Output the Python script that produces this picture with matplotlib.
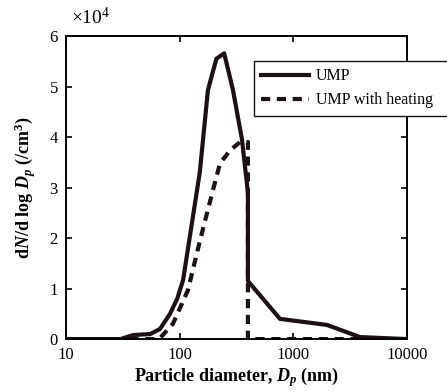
import matplotlib
matplotlib.use("Agg")
import matplotlib.pyplot as plt
from matplotlib.ticker import FuncFormatter, FixedLocator, NullLocator

plt.rcParams['font.family'] = ['Liberation Serif', 'DejaVu Serif']
plt.rcParams['mathtext.fontset'] = 'custom'
plt.rcParams['mathtext.rm'] = 'Liberation Serif'
plt.rcParams['mathtext.it'] = 'Liberation Serif:italic'
plt.rcParams['mathtext.bf'] = 'Liberation Serif:bold'
plt.rcParams['mathtext.bfit'] = 'Liberation Serif:bold:italic'

# particle size distribution, dN/dlogDp in /cm3
ump_d = [10, 30, 39, 55, 67, 82, 95, 107, 128, 150, 177, 210, 246, 294, 353, 398, 398, 762, 1977, 3855, 10000]
ump_n = [0, 0, 800, 1000, 2000, 5000, 8000, 11700, 23000, 33000, 49300, 55500, 56600, 49300, 39500, 29000, 11500, 4000, 2800, 400, 0]

heat_d = [10, 60, 67, 87, 118, 151, 196, 226, 278, 339, 398, 398, 10000]
heat_n = [0, 0, 200, 3000, 9700, 19600, 29500, 34800, 37400, 39000, 39000, 0, 0]

fig = plt.figure(figsize=(4.47, 3.92), dpi=100)
ax = fig.add_axes([0.148, 0.135, 0.7625, 0.773])

ax.plot(ump_d, ump_n, color='#1a1110', lw=3.0, solid_joinstyle='round', label='UMP')
ax.plot(heat_d, heat_n, color='#1a1110', lw=3.0, ls=(0, (2.2, 1.6)), label='UMP with heating')

ax.set_xscale('log')
ax.set_xlim(10, 10000)
ax.set_ylim(0, 60000)
ax.xaxis.set_major_locator(FixedLocator([10, 100, 1000, 10000]))
ax.xaxis.set_minor_locator(NullLocator())
ax.set_xticklabels(['10', '100', '1000', '10000'])
ax.set_yticks([0, 10000, 20000, 30000, 40000, 50000, 60000])
ax.yaxis.set_major_formatter(FuncFormatter(lambda v, p: '%d' % round(v / 1e4)))
ax.text(0.015, 1.025, r'$\times10^4$', transform=ax.transAxes, fontsize=14,
        ha='left', va='bottom')

ax.tick_params(direction='in', length=4, width=1.2, labelsize=12, right=True, top=True)
ax.tick_params(axis='x', pad=6)
ax.tick_params(axis='y', pad=6)
for s in ax.spines.values():
    s.set_linewidth(1.4)

ax.set_xlabel(r'Particle diameter, $\mathbfit{D_p}$ (nm)', fontsize=13, fontweight='bold', labelpad=1)
ax.set_ylabel(r'd$\mathbfit{N}$/d log $\mathbfit{D_p}$ (/cm$^{\mathbf{3}}$)', fontsize=13, fontweight='bold', labelpad=8)

# legend runs past the right edge of the figure, as in the original
fig.legend(loc='upper left', bbox_to_anchor=(0.568, 0.70, 0.45, 0.144), mode='expand',
           fontsize=11.5, frameon=True, fancybox=False, edgecolor='#1a1110', framealpha=1,
           handlelength=3.0, borderpad=0.45, labelspacing=0.5, handletextpad=0.45,
           borderaxespad=0)

fig.savefig('out.png', dpi=100)
